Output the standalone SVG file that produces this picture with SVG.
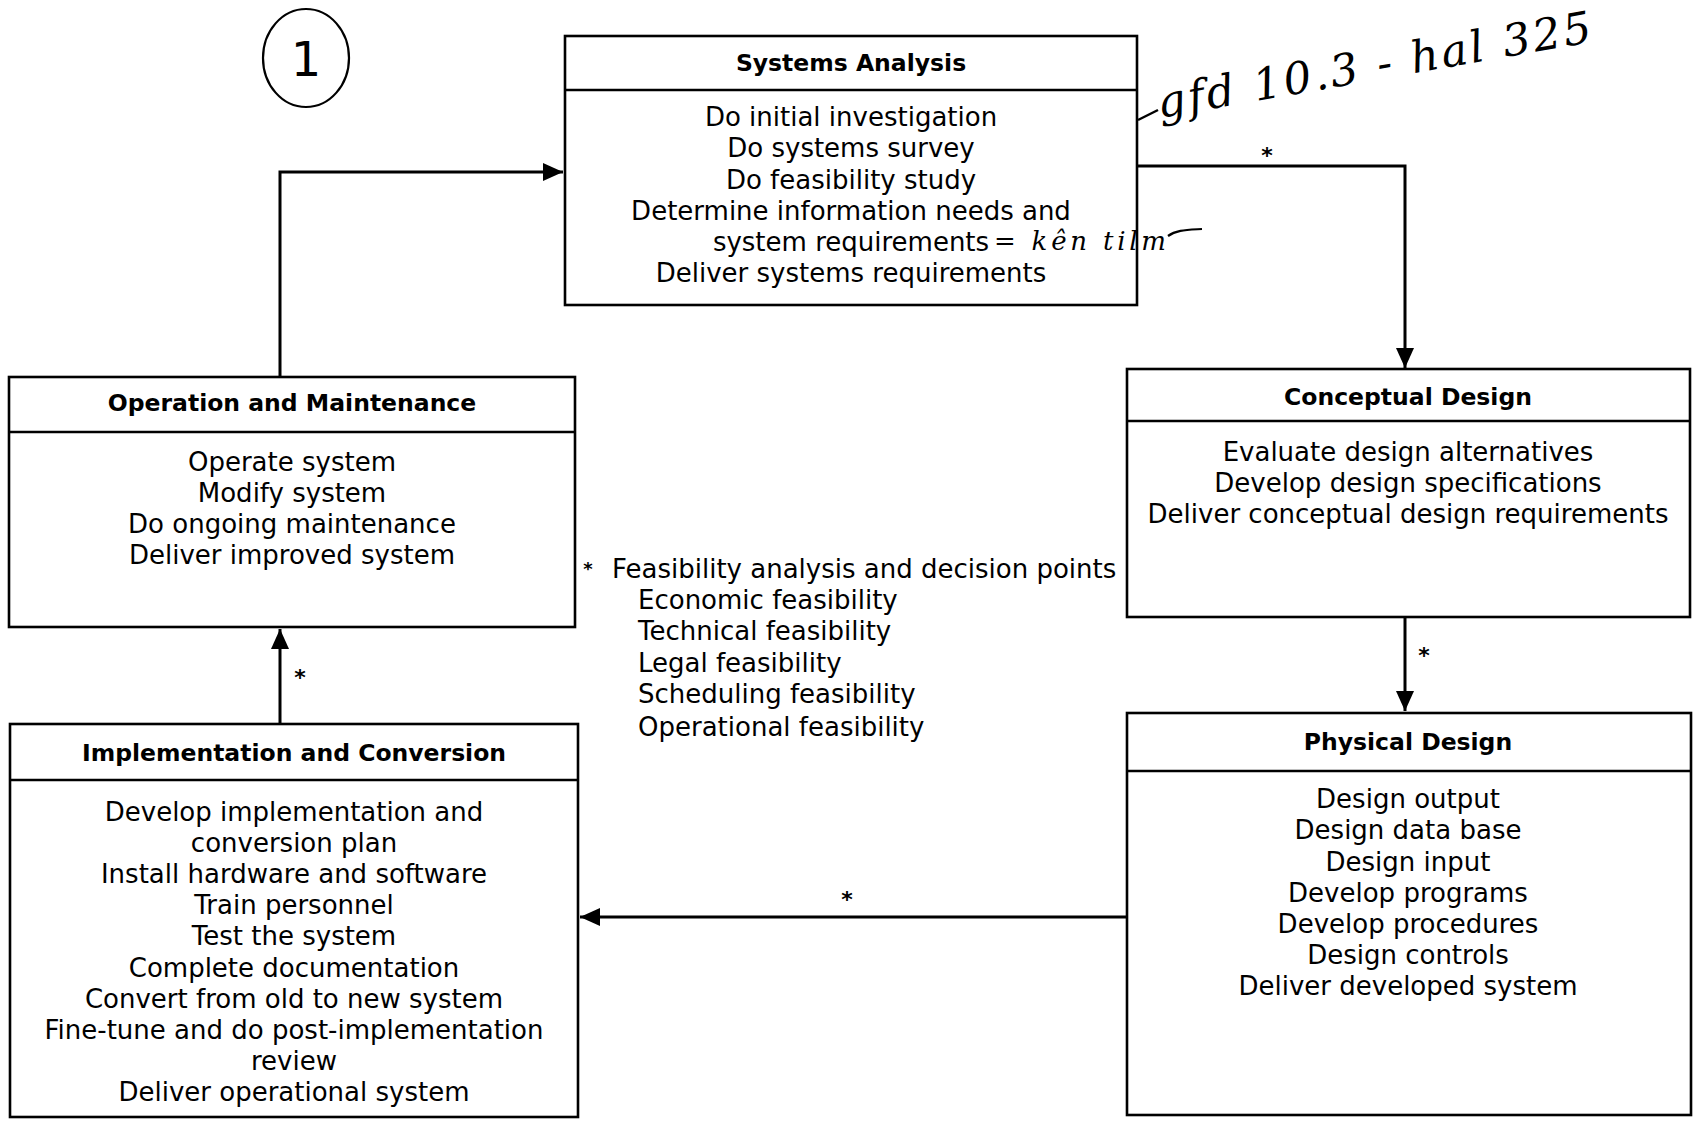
<svg xmlns="http://www.w3.org/2000/svg" width="1698" height="1121" viewBox="0 0 1698 1121">
<defs>
<style>
.box{fill:#fff;stroke:#000;stroke-width:2.6}
.hdr{stroke:#000;stroke-width:2.6}
.title{font-family:"DejaVu Sans",sans-serif;font-weight:bold;font-size:23.5px;text-anchor:middle;fill:#000}
.body{font-family:"DejaVu Sans",sans-serif;font-size:26px;text-anchor:middle;fill:#000}
.note{font-family:"DejaVu Sans",sans-serif;font-size:26px;fill:#000}
.ast{font-family:"DejaVu Sans",sans-serif;font-size:22px;font-weight:bold;text-anchor:middle;fill:#000}
.conn{fill:none;stroke:#000;stroke-width:3}
.hand{font-family:"DejaVu Serif",serif;font-style:italic;fill:#000}
</style>
<marker id="arr" markerUnits="userSpaceOnUse" markerWidth="22" markerHeight="20" refX="20" refY="9" orient="auto">
<path d="M0,0 L20,9 L0,18 z" fill="#000"/>
</marker>
</defs>
<rect width="1698" height="1121" fill="#fff"/>

<g id="connectors">
<path class="conn" d="M280,377 V172 H563" marker-end="url(#arr)"/>
<path class="conn" d="M1137,166 H1405 V368" marker-end="url(#arr)"/>
<path class="conn" d="M1405,618 V711" marker-end="url(#arr)"/>
<path class="conn" d="M1127,917 H580" marker-end="url(#arr)"/>
<path class="conn" d="M280,724 V629" marker-end="url(#arr)"/>
<text class="ast" x="1267" y="163">*</text>
<text class="ast" x="1424" y="663">*</text>
<text class="ast" x="847" y="907">*</text>
<text class="ast" x="300" y="685">*</text>
</g>

<g id="systems-analysis">
<rect class="box" x="565" y="36" width="572" height="269"/>
<line class="hdr" x1="565" y1="90" x2="1137" y2="90"/>
<text class="title" x="851" y="71">Systems Analysis</text>
<text class="body" x="851" y="126">Do initial investigation</text>
<text class="body" x="851" y="157">Do systems survey</text>
<text class="body" x="851" y="189">Do feasibility study</text>
<text class="body" x="851" y="220">Determine information needs and</text>
<text class="body" x="851" y="251">system requirements</text>
<text class="body" x="851" y="282">Deliver systems requirements</text>
</g>

<g id="operation-maintenance">
<rect class="box" x="9" y="377" width="566" height="250"/>
<line class="hdr" x1="9" y1="432" x2="575" y2="432"/>
<text class="title" x="292" y="411">Operation and Maintenance</text>
<text class="body" x="292" y="471">Operate system</text>
<text class="body" x="292" y="502">Modify system</text>
<text class="body" x="292" y="533">Do ongoing maintenance</text>
<text class="body" x="292" y="564">Deliver improved system</text>
</g>

<g id="conceptual-design">
<rect class="box" x="1127" y="369" width="563" height="248"/>
<line class="hdr" x1="1127" y1="421" x2="1690" y2="421"/>
<text class="title" x="1408" y="405">Conceptual Design</text>
<text class="body" x="1408" y="461">Evaluate design alternatives</text>
<text class="body" x="1408" y="492">Develop design specifications</text>
<text class="body" x="1408" y="523">Deliver conceptual design requirements</text>
</g>

<g id="physical-design">
<rect class="box" x="1127" y="713" width="564" height="402"/>
<line class="hdr" x1="1127" y1="771" x2="1691" y2="771"/>
<text class="title" x="1408" y="750">Physical Design</text>
<text class="body" x="1408" y="808">Design output</text>
<text class="body" x="1408" y="839">Design data base</text>
<text class="body" x="1408" y="871">Design input</text>
<text class="body" x="1408" y="902">Develop programs</text>
<text class="body" x="1408" y="933">Develop procedures</text>
<text class="body" x="1408" y="964">Design controls</text>
<text class="body" x="1408" y="995">Deliver developed system</text>
</g>

<g id="implementation-conversion">
<rect class="box" x="10" y="724" width="568" height="393"/>
<line class="hdr" x1="10" y1="780" x2="578" y2="780"/>
<text class="title" x="294" y="761">Implementation and Conversion</text>
<text class="body" x="294" y="821">Develop implementation and</text>
<text class="body" x="294" y="852">conversion plan</text>
<text class="body" x="294" y="883">Install hardware and software</text>
<text class="body" x="294" y="914">Train personnel</text>
<text class="body" x="294" y="945">Test the system</text>
<text class="body" x="294" y="977">Complete documentation</text>
<text class="body" x="294" y="1008">Convert from old to new system</text>
<text class="body" x="294" y="1039">Fine-tune and do post-implementation</text>
<text class="body" x="294" y="1070">review</text>
<text class="body" x="294" y="1101">Deliver operational system</text>
</g>

<g id="feasibility-note">
<text class="ast" x="588" y="575" style="font-size:18px">*</text>
<text class="note" x="612" y="578">Feasibility analysis and decision points</text>
<text class="note" x="638" y="609">Economic feasibility</text>
<text class="note" x="638" y="640">Technical feasibility</text>
<text class="note" x="638" y="672">Legal feasibility</text>
<text class="note" x="638" y="703">Scheduling feasibility</text>
<text class="note" x="638" y="736">Operational feasibility</text>
</g>

<g id="handwriting">
<ellipse cx="306" cy="58" rx="43" ry="49" fill="none" stroke="#000" stroke-width="2.2"/>
<text x="306" y="76" font-size="48" text-anchor="middle" style="font-family:'DejaVu Sans',sans-serif">1</text>
<path d="M1138,120 L1158,110" stroke="#000" stroke-width="2.5" fill="none"/>
<text class="hand" font-size="44" textLength="440" lengthAdjust="spacing" transform="translate(1160,118) rotate(-10)">gfd 10.3 - hal 325</text>
<text class="hand" x="994" y="250" font-size="26" textLength="172" lengthAdjust="spacing">= kên tilm</text>
<path d="M1168,236 C1176,230 1186,230 1202,229" stroke="#000" stroke-width="2.2" fill="none"/>
</g>
</svg>
